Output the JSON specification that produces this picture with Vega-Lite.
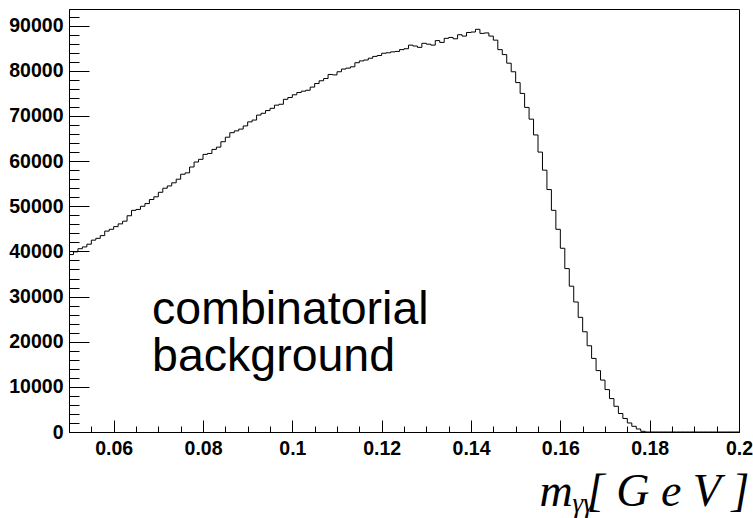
{
  "$schema": "https://vega.github.io/schema/vega-lite/v6.json",
  "width": 670,
  "height": 423,
  "autosize": "none",
  "padding": {"left": 69, "top": 9, "right": 14, "bottom": 86},
  "config": {
    "view": {"stroke": "#000000", "strokeWidth": 1},
    "axis": {"grid": false, "labelFont": "Liberation Sans", "labelFontWeight": "bold", "labelFontSize": 19.5, "labelColor": "#000000", "domainColor": "#000000", "tickColor": "#000000", "labelFlush": false, "labelOverlap": false, "labelBound": false}
  },
  "datasets": {
    "hist": [
      {"m": 0.050, "n": 39300}, {"m": 0.051, "n": 39900}, {"m": 0.052, "n": 40600}, {"m": 0.053, "n": 41000}, {"m": 0.054, "n": 41600},
      {"m": 0.055, "n": 42500}, {"m": 0.056, "n": 42900}, {"m": 0.057, "n": 43500}, {"m": 0.058, "n": 44500}, {"m": 0.059, "n": 44900},
      {"m": 0.060, "n": 45500}, {"m": 0.061, "n": 46100}, {"m": 0.062, "n": 46700}, {"m": 0.063, "n": 47900}, {"m": 0.064, "n": 49100},
      {"m": 0.065, "n": 49300}, {"m": 0.066, "n": 50000}, {"m": 0.067, "n": 50600}, {"m": 0.068, "n": 51500}, {"m": 0.069, "n": 52100},
      {"m": 0.070, "n": 53100}, {"m": 0.071, "n": 54000}, {"m": 0.072, "n": 54500}, {"m": 0.073, "n": 55200}, {"m": 0.074, "n": 56000},
      {"m": 0.075, "n": 57100}, {"m": 0.076, "n": 57400}, {"m": 0.077, "n": 58700}, {"m": 0.078, "n": 59800}, {"m": 0.079, "n": 60400},
      {"m": 0.080, "n": 61500}, {"m": 0.081, "n": 61700}, {"m": 0.082, "n": 62600}, {"m": 0.083, "n": 63100}, {"m": 0.084, "n": 64300},
      {"m": 0.085, "n": 65300}, {"m": 0.086, "n": 66300}, {"m": 0.087, "n": 66700}, {"m": 0.088, "n": 67100}, {"m": 0.089, "n": 67800},
      {"m": 0.090, "n": 68700}, {"m": 0.091, "n": 69100}, {"m": 0.092, "n": 70200}, {"m": 0.093, "n": 70600}, {"m": 0.094, "n": 71200},
      {"m": 0.095, "n": 71700}, {"m": 0.096, "n": 72400}, {"m": 0.097, "n": 72600}, {"m": 0.098, "n": 73700}, {"m": 0.099, "n": 74100},
      {"m": 0.100, "n": 74700}, {"m": 0.101, "n": 75200}, {"m": 0.102, "n": 75500}, {"m": 0.103, "n": 75700}, {"m": 0.104, "n": 76400},
      {"m": 0.105, "n": 77200}, {"m": 0.106, "n": 77800}, {"m": 0.107, "n": 78300}, {"m": 0.108, "n": 79200}, {"m": 0.109, "n": 79100},
      {"m": 0.110, "n": 79800}, {"m": 0.111, "n": 80400}, {"m": 0.112, "n": 80600}, {"m": 0.113, "n": 80900}, {"m": 0.114, "n": 81800},
      {"m": 0.115, "n": 82200}, {"m": 0.116, "n": 82400}, {"m": 0.117, "n": 82800}, {"m": 0.118, "n": 83200}, {"m": 0.119, "n": 83400},
      {"m": 0.120, "n": 83900}, {"m": 0.121, "n": 84000}, {"m": 0.122, "n": 84200}, {"m": 0.123, "n": 84300}, {"m": 0.124, "n": 84700},
      {"m": 0.125, "n": 84900}, {"m": 0.126, "n": 85700}, {"m": 0.127, "n": 85500}, {"m": 0.128, "n": 85200}, {"m": 0.129, "n": 86100},
      {"m": 0.130, "n": 85900}, {"m": 0.131, "n": 85700}, {"m": 0.132, "n": 86700}, {"m": 0.133, "n": 86300}, {"m": 0.134, "n": 87200},
      {"m": 0.135, "n": 87400}, {"m": 0.136, "n": 87100}, {"m": 0.137, "n": 88000}, {"m": 0.138, "n": 87700}, {"m": 0.139, "n": 88500},
      {"m": 0.140, "n": 88600}, {"m": 0.141, "n": 89200}, {"m": 0.142, "n": 88300}, {"m": 0.143, "n": 88400}, {"m": 0.144, "n": 87700},
      {"m": 0.145, "n": 86800}, {"m": 0.146, "n": 84700}, {"m": 0.147, "n": 83600}, {"m": 0.148, "n": 81700}, {"m": 0.149, "n": 79800},
      {"m": 0.150, "n": 77400}, {"m": 0.151, "n": 75000}, {"m": 0.152, "n": 71900}, {"m": 0.153, "n": 69300}, {"m": 0.154, "n": 65800},
      {"m": 0.155, "n": 62000}, {"m": 0.156, "n": 58000}, {"m": 0.157, "n": 53700}, {"m": 0.158, "n": 49100}, {"m": 0.159, "n": 44900},
      {"m": 0.160, "n": 40700}, {"m": 0.161, "n": 36200}, {"m": 0.162, "n": 32300}, {"m": 0.163, "n": 28800}, {"m": 0.164, "n": 25400},
      {"m": 0.165, "n": 22200}, {"m": 0.166, "n": 19100}, {"m": 0.167, "n": 16300}, {"m": 0.168, "n": 13600}, {"m": 0.169, "n": 11500},
      {"m": 0.170, "n": 9400}, {"m": 0.171, "n": 7400}, {"m": 0.172, "n": 5700}, {"m": 0.173, "n": 4100}, {"m": 0.174, "n": 3000},
      {"m": 0.175, "n": 2000}, {"m": 0.176, "n": 1260}, {"m": 0.177, "n": 670}, {"m": 0.178, "n": 150}, {"m": 0.179, "n": 0},
      {"m": 0.180, "n": 0}, {"m": 0.181, "n": 0}, {"m": 0.182, "n": 0}, {"m": 0.183, "n": 0}, {"m": 0.184, "n": 0},
      {"m": 0.185, "n": 0}, {"m": 0.186, "n": 0}, {"m": 0.187, "n": 0}, {"m": 0.188, "n": 0}, {"m": 0.189, "n": 0},
      {"m": 0.190, "n": 0}, {"m": 0.191, "n": 0}, {"m": 0.192, "n": 0}, {"m": 0.193, "n": 0}, {"m": 0.194, "n": 0},
      {"m": 0.195, "n": 0}, {"m": 0.196, "n": 0}, {"m": 0.197, "n": 0}, {"m": 0.198, "n": 0}, {"m": 0.199, "n": 0},
      {"m": 0.200, "n": 0}
    ],
    "note": [
      {"m": 0.0686, "n": 24000, "label": ["combinatorial", "background"]}
    ]
  },
  "resolve": {"axis": {"x": "independent", "y": "independent"}},
  "layer": [
    {
      "data": {"name": "hist"},
      "mark": {"type": "line", "interpolate": "step-after", "color": "#000000", "strokeWidth": 1, "clip": true},
      "encoding": {
        "x": {"field": "m", "type": "quantitative",
          "scale": {"domain": [0.05, 0.2], "nice": false, "zero": false},
          "axis": {"orient": "bottom", "values": [0.06, 0.08, 0.1, 0.12, 0.14, 0.16, 0.18, 0.2], "format": "~g",
            "tickSize": -12, "labelPadding": 19, "domainWidth": 1,
            "title": "m", "titleFont": "Liberation Serif", "titleFontStyle": "italic", "titleFontWeight": "normal", "titleFontSize": 46, "titleColor": "#000000",
            "titleAlign": "left", "titleBaseline": "alphabetic", "titleX": 470, "titleY": 73, "titleAngle": 0}},
        "y": {"field": "n", "type": "quantitative",
          "scale": {"domain": [0, 93700], "nice": false, "zero": true},
          "axis": {"orient": "left", "values": [0, 10000, 20000, 30000, 40000, 50000, 60000, 70000, 80000, 90000], "format": "d",
            "tickSize": -20, "labelPadding": 26, "title": null}}
      }
    },
    {
      "data": {"name": "hist"},
      "mark": {"type": "line", "interpolate": "step-after", "strokeOpacity": 0},
      "encoding": {
        "x": {"field": "m", "type": "quantitative",
          "axis": {"orient": "bottom", "values": [0.055, 0.06, 0.065, 0.07, 0.075, 0.08, 0.085, 0.09, 0.095, 0.1, 0.105, 0.11, 0.115, 0.12, 0.125, 0.13, 0.135, 0.14, 0.145, 0.15, 0.155, 0.16, 0.165, 0.17, 0.175, 0.18, 0.185, 0.19, 0.195],
            "tickSize": -6, "labels": false, "domain": false,
            "title": "γγ", "titleFont": "Liberation Serif", "titleFontStyle": "italic", "titleFontWeight": "normal", "titleFontSize": 27, "titleColor": "#000000",
            "titleAlign": "left", "titleBaseline": "alphabetic", "titleX": 503, "titleY": 79, "titleAngle": 0}},
        "y": {"field": "n", "type": "quantitative",
          "axis": {"orient": "left", "values": [2000, 4000, 6000, 8000, 10000, 12000, 14000, 16000, 18000, 20000, 22000, 24000, 26000, 28000, 30000, 32000, 34000, 36000, 38000, 40000, 42000, 44000, 46000, 48000, 50000, 52000, 54000, 56000, 58000, 60000, 62000, 64000, 66000, 68000, 70000, 72000, 74000, 76000, 78000, 80000, 82000, 84000, 86000, 88000, 90000, 92000],
            "tickSize": -10, "labels": false, "domain": false, "title": null}}
      }
    },
    {
      "data": {"name": "note"},
      "mark": {"type": "text", "align": "left", "baseline": "alphabetic", "font": "Liberation Sans", "fontSize": 46.5, "lineHeight": 47, "color": "#000000"},
      "encoding": {
        "x": {"field": "m", "type": "quantitative",
          "axis": {"orient": "bottom", "ticks": false, "labels": false, "domain": false,
            "title": "[ G e V ]", "titleFont": "Liberation Serif", "titleFontStyle": "italic", "titleFontWeight": "normal", "titleFontSize": 46, "titleColor": "#000000",
            "titleAlign": "right", "titleBaseline": "alphabetic", "titleX": 680, "titleY": 73, "titleAngle": 0}},
        "y": {"field": "n", "type": "quantitative", "axis": null},
        "text": {"field": "label"}
      }
    }
  ]
}
